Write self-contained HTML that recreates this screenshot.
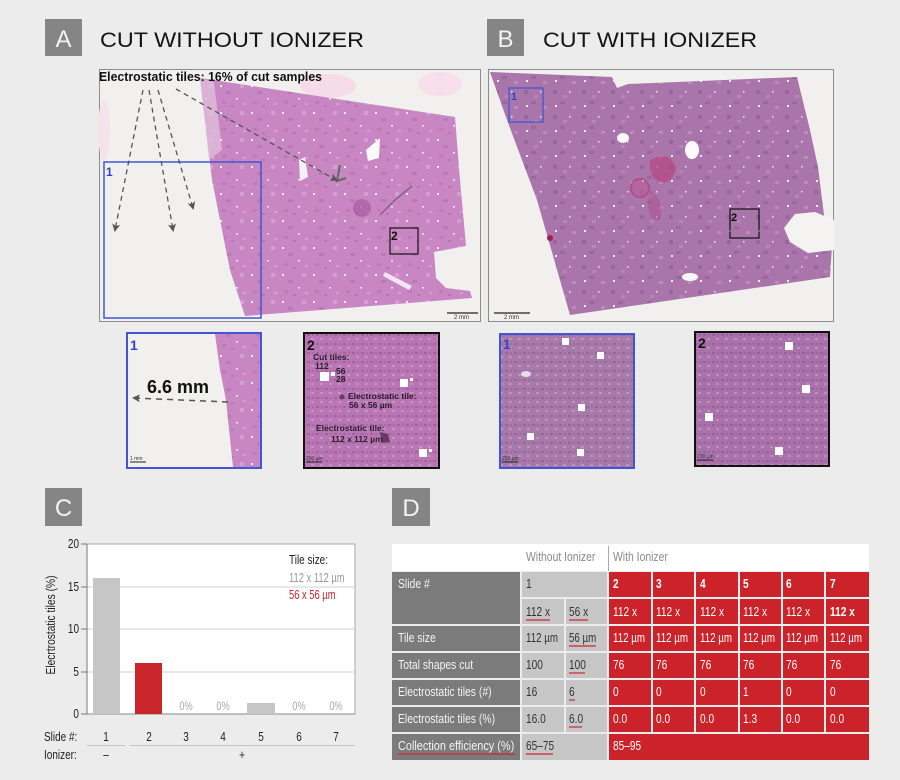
<!DOCTYPE html>
<html><head><meta charset="utf-8"><style>
html,body{margin:0;padding:0;background:#ececec;}
svg{display:block;}
</style></head><body>
<svg width="900" height="780" viewBox="0 0 900 780" xmlns="http://www.w3.org/2000/svg" font-family="'Liberation Sans', Arial, sans-serif">
<defs>
<pattern id="tA" width="31" height="27" patternUnits="userSpaceOnUse"><rect width="31" height="27" fill="#c887c3"/><rect x="3" y="4" width="2" height="2" fill="#fff" opacity=".9"/><rect x="19" y="17" width="2" height="1.5" fill="#fff" opacity=".8"/><rect x="9" y="10" width="5" height="3" fill="#bb78b6"/><rect x="23" y="3" width="4" height="4" fill="#d49ecf"/><rect x="5" y="20" width="4" height="3" fill="#bd7cb8"/><rect x="26" y="22" width="3" height="2" fill="#d3a0cf"/><rect x="14" y="24" width="3" height="2" fill="#b875b3"/></pattern>
<pattern id="tB" width="29" height="25" patternUnits="userSpaceOnUse"><rect width="29" height="25" fill="#a975ab"/><rect x="4" y="5" width="2" height="2" fill="#fff" opacity=".9"/><rect x="18" y="16" width="1.5" height="1.5" fill="#fff" opacity=".8"/><rect x="9" y="1" width="5" height="3" fill="#9a689e"/><rect x="21" y="6" width="4" height="3" fill="#b98cba"/><rect x="2" y="15" width="4" height="4" fill="#98659c"/><rect x="12" y="20" width="4" height="3" fill="#b389b4"/></pattern>
<pattern id="tA2" width="9" height="9" patternUnits="userSpaceOnUse"><rect width="9" height="9" fill="#b877b4"/><rect x="1" y="1" width="3" height="2" fill="#a4629c"/><rect x="5" y="5" width="3" height="2" fill="#c992c5"/><rect x="6" y="1" width="2" height="2" fill="#ab6aa6"/></pattern>
<pattern id="tB1" width="9" height="9" patternUnits="userSpaceOnUse"><rect width="9" height="9" fill="#a87aaa"/><rect x="1" y="1" width="3" height="2" fill="#95669a"/><rect x="5" y="5" width="3" height="2" fill="#bd94be"/><rect x="6" y="1" width="2" height="2" fill="#9b6da0"/></pattern>
<pattern id="tB2" width="9" height="9" patternUnits="userSpaceOnUse"><rect width="9" height="9" fill="#aa72aa"/><rect x="1" y="1" width="3" height="2" fill="#96619a"/><rect x="5" y="5" width="3" height="2" fill="#bf8fbf"/><rect x="6" y="1" width="2" height="2" fill="#9c66a0"/></pattern>
<marker id="ah" markerWidth="8" markerHeight="8" refX="6" refY="4" orient="auto" markerUnits="userSpaceOnUse"><path d="M0,0 L8,4 L0,8 L2,4 z" fill="#555"/></marker>
</defs>

<rect width="900" height="780" fill="#ececec"/>

<!-- ===== Panel A ===== -->
<rect x="45" y="19" width="37" height="37" fill="#858585"/>
<text x="63.5" y="47" font-size="24" fill="#f2f2f2" text-anchor="middle">A</text>
<text x="100" y="47" font-size="21" fill="#141414" textLength="264" lengthAdjust="spacingAndGlyphs">CUT WITHOUT IONIZER</text>

<rect x="99.5" y="69.5" width="381" height="252" fill="#f1f0ee" stroke="#8c8c8c"/>
<ellipse cx="328" cy="86" rx="28" ry="12" fill="#f6dbe8"/>
<ellipse cx="440" cy="84" rx="22" ry="12" fill="#f7e0eb"/>
<ellipse cx="104" cy="130" rx="6" ry="30" fill="#f4e3ea"/>
<polygon points="200,78 455,117 460,180 466,246 434,252 436,278 446,288 470,291 472,298 245,316 230,270 212,180" fill="url(#tA)"/>
<polygon points="200,78 214,82 222,150 209,160" fill="#e2c4de" opacity=".7"/>
<polygon points="366,150 380,138 379,158 368,161" fill="#fafafa"/>
<polygon points="299,160 305,157 308,177 300,181" fill="#f5f0f5"/>
<polygon points="385,272 412,286 409,290 383,276" fill="#f2e6f2"/>
<circle cx="362" cy="208" r="9" fill="#a85aa0" opacity=".7"/>
<path d="M340,165 L337,181 L346,178" stroke="#666" stroke-width="2" fill="none"/>
<path d="M380,215 L395,200 L412,186" stroke="#7a5a7c" stroke-width="1.2" fill="none"/>

<rect x="104" y="162" width="157" height="156" fill="none" stroke="#4255d6" stroke-width="1.5"/>
<text x="106" y="176" font-size="12" font-weight="bold" fill="#3344cc">1</text>
<rect x="390" y="228" width="28" height="26" fill="none" stroke="#111" stroke-width="1.2"/>
<text x="391" y="240" font-size="12" font-weight="bold" fill="#111">2</text>

<text x="99" y="81" font-size="12.5" font-weight="bold" fill="#111" textLength="223" lengthAdjust="spacingAndGlyphs">Electrostatic tiles: 16% of cut samples</text>
<g stroke="#555" stroke-width="1.3" stroke-dasharray="5,4" fill="none" marker-end="url(#ah)">
<line x1="143" y1="90" x2="115" y2="230"/>
<line x1="149" y1="90" x2="173" y2="230"/>
<line x1="158" y1="90" x2="193" y2="208"/>
<line x1="176" y1="89" x2="336" y2="180"/>
</g>
<line x1="447" y1="313" x2="478" y2="313" stroke="#222" stroke-width="1.2"/>
<text x="454" y="319" font-size="6" fill="#333">2 mm</text>

<!-- ===== Panel B ===== -->
<rect x="487" y="19" width="37" height="37" fill="#858585"/>
<text x="505.5" y="47" font-size="24" fill="#f2f2f2" text-anchor="middle">B</text>
<text x="543" y="47" font-size="21" fill="#141414" textLength="214" lengthAdjust="spacingAndGlyphs">CUT WITH IONIZER</text>

<rect x="488.5" y="69.5" width="345" height="252" fill="#f1f0ee" stroke="#8c8c8c"/>
<polygon points="490,72 612,77 617,88 628,84 797,77 810,130 818,167 824,215 832,245 830,277 570,315 537,200 507,120" fill="url(#tB)"/>
<polygon points="784,228 795,214 815,212 834,220 834,250 808,253 790,242" fill="#f4f3f1"/>
<ellipse cx="623" cy="138" rx="6" ry="5" fill="#fbfbfb"/>
<ellipse cx="692" cy="150" rx="7" ry="9" fill="#fbfbfb"/>
<ellipse cx="690" cy="277" rx="8" ry="4" fill="#f8f8f8"/>
<path d="M650,160 Q670,150 676,168 Q672,185 660,182 Q648,178 650,160 z" fill="#b8407e" opacity=".65"/>
<path d="M650,190 Q665,200 660,220 Q650,222 648,205 z" fill="#b04a88" opacity=".45"/>
<circle cx="640" cy="188" r="9" fill="#c05a92" opacity=".5" stroke="#b2306e" stroke-width="2"/>
<circle cx="550" cy="238" r="3" fill="#a02050"/>
<rect x="509" y="88" width="34" height="34" fill="none" stroke="#4255d6" stroke-width="1.3"/>
<text x="511" y="100" font-size="11" font-weight="bold" fill="#3344cc">1</text>
<rect x="730" y="209" width="29" height="29" fill="none" stroke="#111" stroke-width="1.2"/>
<text x="731" y="221" font-size="11" font-weight="bold" fill="#111">2</text>
<line x1="494" y1="313" x2="530" y2="313" stroke="#222" stroke-width="1.2"/>
<text x="504" y="319" font-size="6" fill="#333">2 mm</text>

<!-- ===== Insets ===== -->
<!-- A1 -->
<rect x="127" y="333" width="134" height="135" fill="#f1f0ee"/>
<polygon points="215,334 261,334 261,467 233,467 228,420 226,400 220,370" fill="url(#tA)"/>
<g stroke="#555" stroke-width="1.5" stroke-dasharray="6,5" fill="none" marker-end="url(#ah)">
<line x1="228" y1="402" x2="134" y2="398"/>
</g>
<text x="147" y="393" font-size="18" font-weight="bold" fill="#111">6.6 mm</text>
<text x="130" y="350" font-size="14" font-weight="bold" fill="#3344cc">1</text>
<line x1="130" y1="462" x2="146" y2="462" stroke="#222"/>
<text x="130" y="460" font-size="5" fill="#333">1 mm</text>
<rect x="127" y="333" width="134" height="135" fill="none" stroke="#4255d6" stroke-width="2"/>

<!-- A2 -->
<rect x="304" y="333" width="135" height="135" fill="url(#tA2)"/>
<rect x="320" y="372" width="9" height="9" fill="#fff"/>
<rect x="331" y="372" width="4" height="4" fill="#fff"/>
<rect x="400" y="379" width="8" height="8" fill="#fff"/>
<rect x="410" y="378" width="3" height="3" fill="#fff"/>
<rect x="419" y="449" width="8" height="8" fill="#fff"/>
<rect x="429" y="449" width="3" height="3" fill="#fff"/>
<circle cx="342" cy="397" r="2.5" fill="#6a3a66"/>
<path d="M380,432 L388,434 L390,442 L382,443 z" fill="#6a3a66"/>
<g font-size="8.5" font-weight="bold" fill="#2a1a2a">
<text x="313" y="360">Cut tiles:</text>
<text x="315" y="369">112</text>
<text x="336" y="374">56</text>
<text x="336" y="382">28</text>
<text x="348" y="399">Electrostatic tile:</text>
<text x="349" y="408">56 x 56 µm</text>
<text x="316" y="431">Electrostatic tile:</text>
<text x="331" y="442">112 x 112 µm</text>
</g>
<text x="307" y="350" font-size="14" font-weight="bold" fill="#111">2</text>
<line x1="306" y1="462" x2="322" y2="462" stroke="#222"/>
<text x="306" y="460" font-size="5" fill="#333">200 µm</text>
<rect x="304" y="333" width="135" height="135" fill="none" stroke="#111" stroke-width="2"/>

<!-- B1 -->
<rect x="500" y="334" width="134" height="134" fill="url(#tB1)"/>
<rect x="562" y="338" width="7" height="7" fill="#fff"/>
<rect x="597" y="352" width="7" height="7" fill="#fff"/>
<rect x="578" y="404" width="7" height="7" fill="#fff"/>
<rect x="527" y="433" width="7" height="7" fill="#fff"/>
<rect x="577" y="449" width="7" height="7" fill="#fff"/>
<ellipse cx="526" cy="374" rx="5" ry="3" fill="#e8dbe8"/>
<text x="503" y="349" font-size="14" font-weight="bold" fill="#3344cc">1</text>
<line x1="502" y1="462" x2="518" y2="462" stroke="#222"/>
<text x="502" y="460" font-size="5" fill="#333">250 µm</text>
<rect x="500" y="334" width="134" height="134" fill="none" stroke="#4255d6" stroke-width="2"/>

<!-- B2 -->
<rect x="695" y="332" width="134" height="134" fill="url(#tB2)"/>
<rect x="785" y="342" width="8" height="8" fill="#fff"/>
<rect x="802" y="385" width="8" height="8" fill="#fff"/>
<rect x="705" y="413" width="8" height="8" fill="#fff"/>
<rect x="775" y="447" width="8" height="8" fill="#fff"/>
<text x="698" y="348" font-size="14" font-weight="bold" fill="#111">2</text>
<line x1="697" y1="460" x2="713" y2="460" stroke="#222"/>
<text x="697" y="458" font-size="5" fill="#333">200 µm</text>
<rect x="695" y="332" width="134" height="134" fill="none" stroke="#111" stroke-width="2"/>

<!-- ===== Panel C ===== -->
<rect x="45" y="488" width="37" height="38" fill="#858585"/>
<text x="63.5" y="516" font-size="24" fill="#f2f2f2" text-anchor="middle">C</text>

<rect x="87" y="544" width="268" height="170" fill="#fff" stroke="#a8a8a8"/>
<g stroke="#d0d0d0" stroke-width="1">
<line x1="87" y1="587" x2="355" y2="587"/>
<line x1="87" y1="629" x2="355" y2="629"/>
<line x1="87" y1="672" x2="355" y2="672"/>
</g>
<line x1="87" y1="544" x2="87" y2="714" stroke="#777"/>
<line x1="87" y1="714" x2="355" y2="714" stroke="#888"/>
<g stroke="#777">
<line x1="81" y1="544" x2="87" y2="544"/>
<line x1="81" y1="587" x2="87" y2="587"/>
<line x1="81" y1="629" x2="87" y2="629"/>
<line x1="81" y1="672" x2="87" y2="672"/>
<line x1="81" y1="714" x2="87" y2="714"/>
</g>
<g font-size="12.5" fill="#222" text-anchor="end">
<text transform="translate(79,548) scale(.8,1)">20</text>
<text transform="translate(79,591) scale(.8,1)">15</text>
<text transform="translate(79,633) scale(.8,1)">10</text>
<text transform="translate(79,676) scale(.8,1)">5</text>
<text transform="translate(79,718) scale(.8,1)">0</text>
</g>
<text transform="translate(55,625) rotate(-90) scale(.82,1)" text-anchor="middle" font-size="12.5" fill="#222">Elecrtrostatic tiles (%)</text>

<rect x="93" y="578" width="27" height="136" fill="#c6c6c6"/>
<rect x="135" y="663" width="27" height="51" fill="#c9252b"/>
<rect x="247" y="703" width="28" height="11" fill="#c6c6c6"/>
<g font-size="11.5" fill="#a8a8a8" text-anchor="middle">
<text transform="translate(186,710) scale(.8,1)">0%</text>
<text transform="translate(223,710) scale(.8,1)">0%</text>
<text transform="translate(299,710) scale(.8,1)">0%</text>
<text transform="translate(336,710) scale(.8,1)">0%</text>
</g>
<g font-size="12.5">
<text transform="translate(289,564) scale(.8,1)" fill="#222">Tile size:</text>
<text transform="translate(289,582) scale(.75,1)" fill="#999">112 x 112 µm</text>
<text transform="translate(289,599) scale(.75,1)" fill="#c9252b">56 x 56 µm</text>
</g>

<g font-size="12.5" fill="#222">
<text transform="translate(44,741) scale(.8,1)">Slide #:</text>
<text transform="translate(44,759) scale(.8,1)">Ionizer:</text>
</g>
<g font-size="12.5" fill="#222" text-anchor="middle">
<text transform="translate(106,741) scale(.8,1)">1</text>
<text transform="translate(149,741) scale(.8,1)">2</text>
<text transform="translate(186,741) scale(.8,1)">3</text>
<text transform="translate(223,741) scale(.8,1)">4</text>
<text transform="translate(261,741) scale(.8,1)">5</text>
<text transform="translate(299,741) scale(.8,1)">6</text>
<text transform="translate(336,741) scale(.8,1)">7</text>
<text transform="translate(106,759) scale(.8,1)">–</text>
<text transform="translate(242,759) scale(.8,1)">+</text>
</g>
<g stroke="#c4c4c4" stroke-width="1">
<line x1="87" y1="745.5" x2="125" y2="745.5"/>
<line x1="130" y1="745.5" x2="355" y2="745.5"/>
</g>

<!-- ===== Panel D ===== -->
<rect x="392" y="488" width="38" height="38" fill="#858585"/>
<text x="411" y="516" font-size="24" fill="#f2f2f2" text-anchor="middle">D</text>

<rect x="392" y="544" width="477" height="27" fill="#fff"/>
<line x1="608.5" y1="546" x2="608.5" y2="571" stroke="#aaa"/>
<text transform="translate(526,561) scale(.8,1)" font-size="13" fill="#8a8a8a">Without Ionizer</text>
<text transform="translate(613,561) scale(.8,1)" font-size="13" fill="#8a8a8a">With Ionizer</text>

<!-- label column -->
<g fill="#7b7b7b">
<rect x="392" y="572" width="128" height="52"/>
<rect x="392" y="626" width="128" height="25"/>
<rect x="392" y="653" width="128" height="25"/>
<rect x="392" y="680" width="128" height="25"/>
<rect x="392" y="707" width="128" height="25"/>
<rect x="392" y="734" width="128" height="26"/>
</g>
<!-- without column -->
<g fill="#c6c6c6">
<rect x="522" y="572" width="85" height="25"/>
<rect x="522" y="599" width="42" height="25"/><rect x="566" y="599" width="41" height="25"/>
<rect x="522" y="626" width="42" height="25"/><rect x="566" y="626" width="41" height="25"/>
<rect x="522" y="653" width="42" height="25"/><rect x="566" y="653" width="41" height="25"/>
<rect x="522" y="680" width="42" height="25"/><rect x="566" y="680" width="41" height="25"/>
<rect x="522" y="707" width="42" height="25"/><rect x="566" y="707" width="41" height="25"/>
<rect x="522" y="734" width="85" height="26"/>
</g>
<!-- red columns -->
<g fill="#cb2329">
<rect x="609" y="572" width="42" height="25"/><rect x="653" y="572" width="41" height="25"/><rect x="696" y="572" width="42" height="25"/><rect x="740" y="572" width="41" height="25"/><rect x="783" y="572" width="41" height="25"/><rect x="826" y="572" width="43" height="25"/>
<rect x="609" y="599" width="42" height="25"/><rect x="653" y="599" width="41" height="25"/><rect x="696" y="599" width="42" height="25"/><rect x="740" y="599" width="41" height="25"/><rect x="783" y="599" width="41" height="25"/><rect x="826" y="599" width="43" height="25"/>
<rect x="609" y="626" width="42" height="25"/><rect x="653" y="626" width="41" height="25"/><rect x="696" y="626" width="42" height="25"/><rect x="740" y="626" width="41" height="25"/><rect x="783" y="626" width="41" height="25"/><rect x="826" y="626" width="43" height="25"/>
<rect x="609" y="653" width="42" height="25"/><rect x="653" y="653" width="41" height="25"/><rect x="696" y="653" width="42" height="25"/><rect x="740" y="653" width="41" height="25"/><rect x="783" y="653" width="41" height="25"/><rect x="826" y="653" width="43" height="25"/>
<rect x="609" y="680" width="42" height="25"/><rect x="653" y="680" width="41" height="25"/><rect x="696" y="680" width="42" height="25"/><rect x="740" y="680" width="41" height="25"/><rect x="783" y="680" width="41" height="25"/><rect x="826" y="680" width="43" height="25"/>
<rect x="609" y="707" width="42" height="25"/><rect x="653" y="707" width="41" height="25"/><rect x="696" y="707" width="42" height="25"/><rect x="740" y="707" width="41" height="25"/><rect x="783" y="707" width="41" height="25"/><rect x="826" y="707" width="43" height="25"/>
<rect x="609" y="734" width="260" height="26"/>
</g>

<!-- label texts -->
<g font-size="13" fill="#f4f4f4">
<text transform="translate(398,588) scale(.8,1)">Slide #</text>
<text transform="translate(398,642) scale(.8,1)">Tile size</text>
<text transform="translate(398,669) scale(.8,1)">Total shapes cut</text>
<text transform="translate(398,696) scale(.8,1)">Electrostatic tiles (#)</text>
<text transform="translate(398,723) scale(.8,1)">Electrostatic tiles (%)</text>
<text transform="translate(398,750) scale(.84,1)">Collection efficiency (%)</text>
</g>
<!-- without texts -->
<g font-size="13" fill="#333">
<text transform="translate(526,588) scale(.8,1)">1</text>
<text transform="translate(526,616) scale(.78,1)">112 x</text>
<text transform="translate(569,616) scale(.78,1)">56 x</text>
<text transform="translate(526,642) scale(.75,1)">112 µm</text>
<text transform="translate(569,642) scale(.75,1)">56 µm</text>
<text transform="translate(526,669) scale(.78,1)">100</text>
<text transform="translate(569,669) scale(.78,1)">100</text>
<text transform="translate(526,696) scale(.78,1)">16</text>
<text transform="translate(569,696) scale(.78,1)">6</text>
<text transform="translate(526,723) scale(.78,1)">16.0</text>
<text transform="translate(569,723) scale(.78,1)">6.0</text>
<text transform="translate(526,750) scale(.78,1)">65–75</text>
</g>
<!-- red texts -->
<g font-size="13" fill="#fff">
<g font-weight="bold">
<text transform="translate(613,588) scale(.78,1)">2</text>
<text transform="translate(656,588) scale(.78,1)">3</text>
<text transform="translate(700,588) scale(.78,1)">4</text>
<text transform="translate(743,588) scale(.78,1)">5</text>
<text transform="translate(786,588) scale(.78,1)">6</text>
<text transform="translate(830,588) scale(.78,1)">7</text>
</g>
<text transform="translate(613,616) scale(.78,1)">112 x</text>
<text transform="translate(656,616) scale(.78,1)">112 x</text>
<text transform="translate(700,616) scale(.78,1)">112 x</text>
<text transform="translate(743,616) scale(.78,1)">112 x</text>
<text transform="translate(786,616) scale(.78,1)">112 x</text>
<text transform="translate(830,616) scale(.78,1)" font-weight="bold">112 x</text>
<text transform="translate(613,642) scale(.75,1)">112 µm</text>
<text transform="translate(656,642) scale(.75,1)">112 µm</text>
<text transform="translate(700,642) scale(.75,1)">112 µm</text>
<text transform="translate(743,642) scale(.75,1)">112 µm</text>
<text transform="translate(786,642) scale(.75,1)">112 µm</text>
<text transform="translate(830,642) scale(.75,1)">112 µm</text>
<text transform="translate(613,669) scale(.78,1)">76</text>
<text transform="translate(656,669) scale(.78,1)">76</text>
<text transform="translate(700,669) scale(.78,1)">76</text>
<text transform="translate(743,669) scale(.78,1)">76</text>
<text transform="translate(786,669) scale(.78,1)">76</text>
<text transform="translate(830,669) scale(.78,1)">76</text>
<text transform="translate(613,696) scale(.78,1)">0</text>
<text transform="translate(656,696) scale(.78,1)">0</text>
<text transform="translate(700,696) scale(.78,1)">0</text>
<text transform="translate(743,696) scale(.78,1)">1</text>
<text transform="translate(786,696) scale(.78,1)">0</text>
<text transform="translate(830,696) scale(.78,1)">0</text>
<text transform="translate(613,723) scale(.78,1)">0.0</text>
<text transform="translate(656,723) scale(.78,1)">0.0</text>
<text transform="translate(700,723) scale(.78,1)">0.0</text>
<text transform="translate(743,723) scale(.78,1)">1.3</text>
<text transform="translate(786,723) scale(.78,1)">0.0</text>
<text transform="translate(830,723) scale(.78,1)">0.0</text>
<text transform="translate(613,750) scale(.78,1)">85–95</text>
</g>
<!-- red underlines -->
<g stroke="#d0262c" stroke-width="1.2">
<line x1="526" y1="620" x2="550" y2="620"/>
<line x1="569" y1="620" x2="588" y2="620"/>
<line x1="569" y1="646" x2="596" y2="646"/>
<line x1="569" y1="673" x2="585" y2="673"/>
<line x1="569" y1="700" x2="575" y2="700"/>
<line x1="569" y1="727" x2="582" y2="727"/>
<line x1="526" y1="754" x2="553" y2="754"/>
<line x1="398" y1="754" x2="515" y2="754"/>
</g>
</svg>
</body></html>
